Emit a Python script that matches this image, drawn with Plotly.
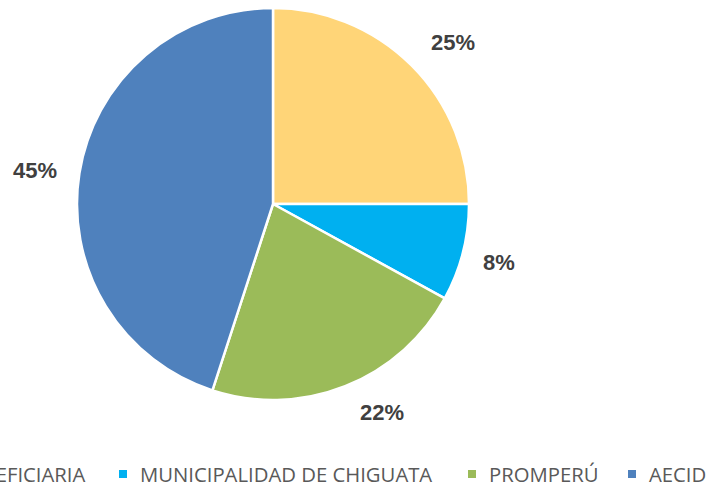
import math
import plotly.graph_objects as go

# Aportes por entidad (porcentaje)
entidades = ["BENEFICIARIA", "MUNICIPALIDAD DE CHIGUATA", "PROMPERÚ", "AECID"]
porcentajes = [25, 8, 22, 45]
colores = ["#FFD578", "#00B0F0", "#9BBB59", "#4F81BD"]

W, H = 707, 487
cx, cy, r = 273, 204, 196  # centro y radio del pastel en píxeles

fig = go.Figure(go.Pie(
    labels=entidades,
    values=porcentajes,
    sort=False,
    direction="clockwise",
    rotation=0,
    marker=dict(colors=colores, line=dict(color="white", width=2.5)),
    textinfo="none",
    hoverinfo="label+percent",
    showlegend=False,
    domain=dict(x=[(cx - r) / W, (cx + r) / W], y=[1 - (cy + r) / H, 1 - (cy - r) / H]),
))

# Etiquetas de porcentaje fuera de cada sector
ajuste_angulo = [3, 0, -6, -1]   # desplazamiento angular de cada etiqueta (grados)
ajuste_radio = [1.235, 1.19, 1.20, 1.225]
total = sum(porcentajes)
acum = 0
for v, da, fr in zip(porcentajes, ajuste_angulo, ajuste_radio):
    medio = (acum + v / 2) / total * 360 + da
    acum += v
    a = math.radians(medio)
    px = cx + fr * r * math.sin(a)
    py = cy - fr * r * math.cos(a)
    fig.add_annotation(
        x=px / W, y=1 - py / H, xref="paper", yref="paper",
        xanchor="center", yanchor="middle",
        text=f"<b>{v}%</b>", showarrow=False,
        font=dict(family="Arial, Liberation Sans", size=22, color="#404040"),
    )

# Leyenda en una sola fila bajo el pastel (continúa más allá del borde izquierdo)
inicio_texto = [-46, 138, 487, 647]  # x de inicio de cada texto de leyenda (px)
y_leyenda = 474
lado = 8
for nombre, color, x0 in zip(entidades, colores, inicio_texto):
    xc = x0 - 15
    fig.add_shape(
        type="rect", xref="paper", yref="paper",
        x0=(xc - lado / 2) / W, x1=(xc + lado / 2) / W,
        y0=1 - (y_leyenda + lado / 2) / H, y1=1 - (y_leyenda - lado / 2) / H,
        fillcolor=color, line=dict(width=0),
    )
    fig.add_annotation(
        x=x0 / W, y=1 - y_leyenda / H, xref="paper", yref="paper",
        xanchor="left", yanchor="middle", text=nombre, showarrow=False,
        font=dict(family="Open Sans", size=20.3, color="#595959"),
    )

fig.update_layout(
    width=W, height=H,
    margin=dict(l=0, r=0, t=0, b=0, autoexpand=False),
    paper_bgcolor="white",
    showlegend=False,
)

fig.write_html("out.html")
